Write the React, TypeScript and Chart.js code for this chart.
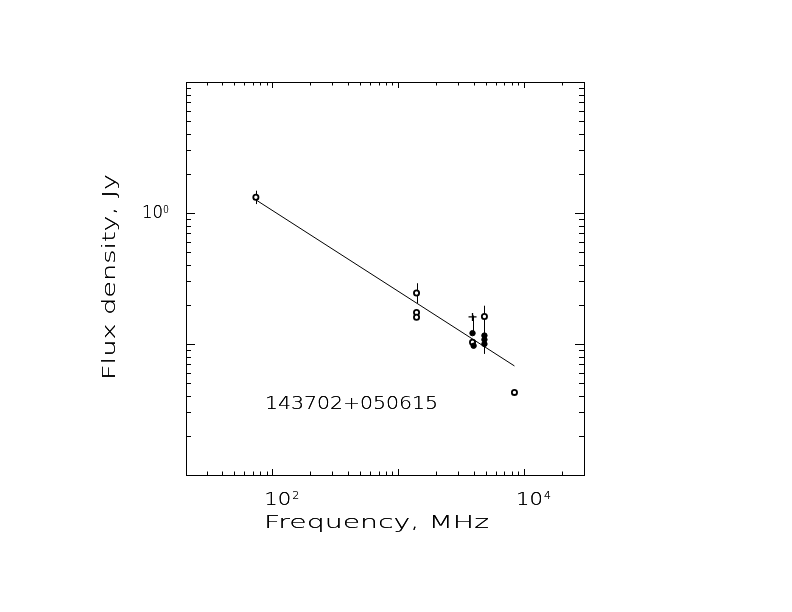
import React, { useEffect, useRef } from "react";
import { Chart, registerables } from "chart.js";

Chart.register(...registerables);

// Axis ranges
const xMin = 20.6;
const xMax = 30000;
const yMin = 0.01;
const yMax = 10;

// Fitted power law (two end points)
const fitFreq = [74, 8400];
const fitFlux = [1.26, 0.068];

// Open symbols
const openFreq = [74, 1400, 1400, 1400, 3900, 4850, 8400];
const openFlux = [1.32, 0.245, 0.174, 0.16, 0.103, 0.162, 0.0427];

// Filled symbols
const filledFreq = [3900, 3980, 4850, 4850, 4850];
const filledFlux = [0.121, 0.097, 0.116, 0.108, 0.1];

// Plus symbols
const plusFreq = [3900];
const plusFlux = [0.161];

// Error bars
const errFreq = [74, 1400, 3900, 4850];
const errLow = [1.17, 0.205, 0.12, 0.084];
const errHigh = [1.48, 0.291, 0.165, 0.196];

// Tick labels
const xLabelTicks = [100, 10000];
const xLabelExp = ["2", "4"];
const yLabelTicks = [1];
const yLabelExp = ["0"];

const sourceName = "143702+050615";
const xTitle = "Frequency, MHz";
const yTitle = "Flux density, Jy";

const FAMILY = "'DejaVu Sans', 'Liberation Sans', sans-serif";

function logTicks(min: number, max: number) {
  const out: { v: number; major: boolean }[] = [];
  const d0 = Math.floor(Math.log10(min));
  const d1 = Math.ceil(Math.log10(max));
  for (let d = d0; d <= d1; d++) {
    for (let m = 1; m <= 9; m++) {
      const v = m * Math.pow(10, d);
      if (v >= min * 0.9999 && v <= max * 1.0001) out.push({ v, major: m === 1 });
    }
  }
  return out;
}

// Draw text stretched horizontally to a target width (mimics wide stroke font)
function wide(ctx: CanvasRenderingContext2D, text: string, x: number, y: number, width: number) {
  const w = ctx.measureText(text).width;
  ctx.save();
  ctx.translate(x, y);
  ctx.scale(width / w, 1);
  ctx.fillText(text, 0, 0);
  ctx.fillText(text, 0, 0);
  ctx.restore();
}

const framePlugin = {
  id: "frame",
  beforeDatasetsDraw(chart: any) {
    const { ctx, scales } = chart;
    const x = scales.x;
    const y = scales.y;
    ctx.save();
    ctx.strokeStyle = "#000";
    ctx.lineWidth = 1;
    ctx.beginPath();
    errFreq.forEach((f, i) => {
      const px = Math.round(x.getPixelForValue(f)) + 0.5;
      ctx.moveTo(px, y.getPixelForValue(errLow[i]));
      ctx.lineTo(px, y.getPixelForValue(errHigh[i]));
    });
    ctx.stroke();
    ctx.restore();
  },
  afterDraw(chart: any) {
    const { ctx, chartArea: a, scales } = chart;
    const x = scales.x;
    const y = scales.y;
    ctx.save();
    ctx.strokeStyle = "#000";
    ctx.fillStyle = "#000";
    ctx.lineWidth = 1;
    // box
    ctx.strokeRect(a.left + 0.5, a.top + 0.5, a.right - a.left, a.bottom - a.top);
    // ticks
    ctx.beginPath();
    logTicks(xMin, xMax).forEach(({ v, major }) => {
      const px = Math.round(x.getPixelForValue(v)) + 0.5;
      const len = major ? 6 : 3.5;
      ctx.moveTo(px, a.bottom);
      ctx.lineTo(px, a.bottom - len);
      ctx.moveTo(px, a.top);
      ctx.lineTo(px, a.top + len);
    });
    logTicks(yMin, yMax).forEach(({ v, major }) => {
      const py = Math.round(y.getPixelForValue(v)) + 0.5;
      const len = major ? 9 : 5;
      ctx.moveTo(a.left, py);
      ctx.lineTo(a.left + len, py);
      ctx.moveTo(a.right, py);
      ctx.lineTo(a.right - len, py);
    });
    ctx.stroke();

    ctx.textBaseline = "alphabetic";
    ctx.textAlign = "left";
    // x tick labels
    xLabelTicks.forEach((v, i) => {
      const px = x.getPixelForValue(v);
      ctx.font = `300 18px ${FAMILY}`;
      wide(ctx, "10", px - 8, 505, 27);
      ctx.font = `300 11px ${FAMILY}`;
      wide(ctx, xLabelExp[i], px + 20, 499, 7);
    });
    // y tick labels
    yLabelTicks.forEach((v, i) => {
      const py = y.getPixelForValue(v);
      ctx.font = `300 18px ${FAMILY}`;
      wide(ctx, "10", 142, py + 5, 21);
      ctx.font = `300 11px ${FAMILY}`;
      wide(ctx, yLabelExp[i], 163, py, 6);
    });

    // titles
    ctx.font = `300 18px ${FAMILY}`;
    wide(ctx, xTitle, 264, 528, 225);
    wide(ctx, sourceName, 265, 409, 173);
    ctx.save();
    ctx.translate(115, 380);
    ctx.rotate(-Math.PI / 2);
    wide(ctx, yTitle, 0, 0, 206);
    ctx.restore();

    ctx.restore();
  },
};

export default function App() {
  const ref = useRef<HTMLCanvasElement | null>(null);
  useEffect(() => {
    if (!ref.current) return;
    const toPts = (xs: number[], ys: number[]) => xs.map((v, i) => ({ x: v, y: ys[i] }));
    const chart = new Chart(ref.current, {
      type: "scatter",
      data: {
        datasets: [
          {
            label: "plus",
            data: toPts(plusFreq, plusFlux),
            pointStyle: "cross",
            pointRadius: 4,
            borderColor: "#000",
            borderWidth: 1.3,
          },
          {
            label: "filled",
            data: toPts(filledFreq, filledFlux),
            pointStyle: "circle",
            pointRadius: 2.7,
            backgroundColor: "#000",
            borderColor: "#000",
            borderWidth: 1,
          },
          {
            label: "open",
            data: toPts(openFreq, openFlux),
            pointStyle: "circle",
            pointRadius: 2.6,
            backgroundColor: "#fff",
            borderColor: "#000",
            borderWidth: 1.8,
          },
          {
            label: "fit",
            data: toPts(fitFreq, fitFlux),
            showLine: true,
            pointRadius: 0,
            borderColor: "#000",
            borderWidth: 1,
          },
        ],
      },
      options: {
        responsive: false,
        animation: false,
        events: [],
        layout: { padding: { left: 186, right: 208, top: 82, bottom: 137 } },
        plugins: { legend: { display: false }, tooltip: { enabled: false } },
        scales: {
          x: { type: "logarithmic", min: xMin, max: xMax, display: false },
          y: { type: "logarithmic", min: yMin, max: yMax, display: false },
        },
      },
      plugins: [framePlugin],
    });
    return () => chart.destroy();
  }, []);
  return (
    <div style={{ position: "absolute", left: 0, top: 0, width: 792, height: 612, background: "#fff" }}>
      <canvas ref={ref} width={792} height={612} style={{ width: 792, height: 612 }} />
    </div>
  );
}
